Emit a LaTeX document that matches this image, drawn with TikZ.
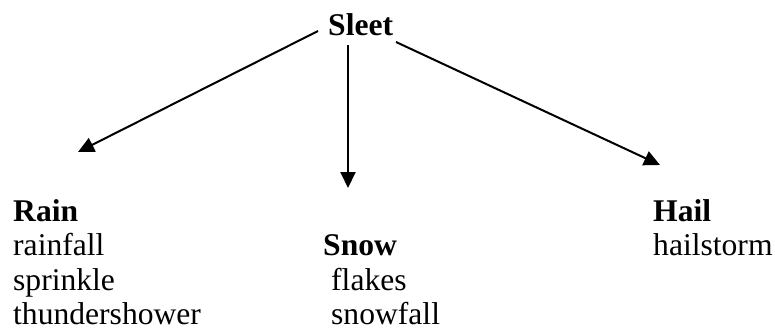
\documentclass[tikz,border=0pt]{standalone}
\usepackage{fontspec}
\setmainfont{Liberation Serif}
\usetikzlibrary{arrows.meta}
\begin{document}
\begin{tikzpicture}[x=1pt,y=-1pt,
  word/.style={anchor=base west,inner sep=0pt,font=\fontsize{31.6}{34.5}\selectfont},
  head/.style={word,font=\fontsize{31.6}{34.5}\selectfont\bfseries},
  link/.style={line width=2pt,-{Triangle[length=16pt,width=15pt]}}]
\useasboundingbox (0,0) rectangle (775,332);
% top term
\node[head] (sleet) at (328,35) {Sleet};
% branches
\node[head] (rain) at (13,221) {Rain};
\node[word] (r1) at (13,255.5) {rainfall};
\node[word] (r2) at (13,290) {sprinkle};
\node[word] (r3) at (13,324.5) {thundershower};
\node[head] (snow) at (323,255.5) {Snow};
\node[word] (s1) at (331,290) {flakes};
\node[word] (s2) at (331,324.5) {snowfall};
\node[head] (hail) at (653,221) {Hail};
\node[word] (h1) at (653,255.5) {hailstorm};
% arrow ends
\coordinate (lA) at (318,31);
\coordinate (lB) at (78,152);
\coordinate (mA) at (348,45);
\coordinate (mB) at (348,188);
\coordinate (rA) at (396,42);
\coordinate (rB) at (660,165);
\draw[link] (lA) -- (lB);
\draw[link] (mA) -- (mB);
\draw[link] (rA) -- (rB);
\end{tikzpicture}
\end{document}
